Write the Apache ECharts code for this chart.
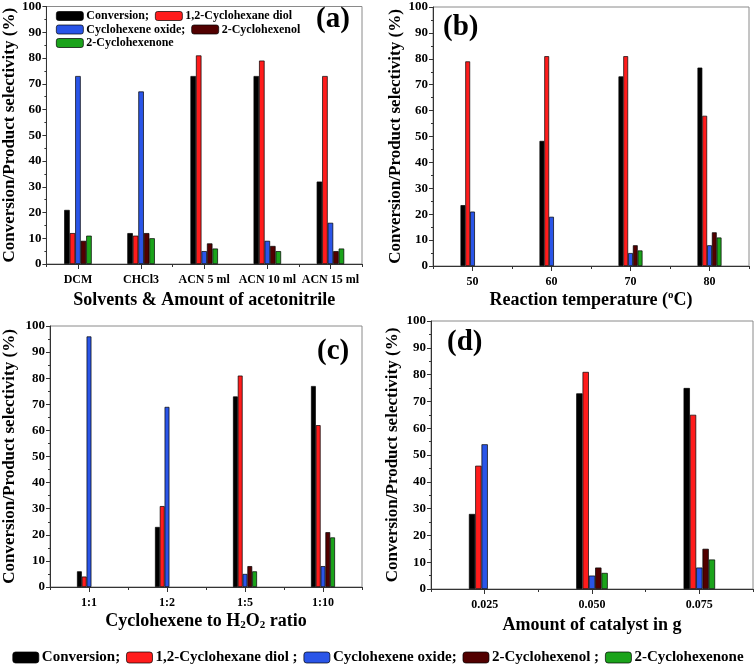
<!DOCTYPE html>
<html><head><meta charset="utf-8">
<script src="https://cdn.jsdelivr.net/npm/echarts@6/dist/echarts.min.js"></script>
<style>html,body{margin:0;padding:0;background:#fff}#c{width:756px;height:671px}</style>
</head><body><div id="c"></div>
<script>
const seriesNames = ['Conversion','1,2-Cyclohexane diol','Cyclohexene oxide','2-Cyclohexenol','2-Cyclohexenone'];
const colors = ['#000000','#ff1c1c','#2a55e8','#520000','#1ba31b'];

// Panel (a)
const catsA = ['DCM','CHCl3','ACN 5 ml','ACN 10 ml','ACN 15 ml'];
const convA  = [21, 12, 73, 73, 32];
const diolA  = [12, 11, 81, 79, 73];
const oxideA = [73, 67, 5, 9, 16];
const enolA  = [9, 12, 8, 7, 5];
const enoneA = [11, 10, 6, 5, 6];

// Panel (b)
const catsB = ['50','60','70','80'];
const convB  = [23.5, 48.3, 73.2, 76.6];
const diolB  = [79, 81, 81, 58];
const oxideB = [21, 19, 5, 8];
const enolB  = [null, null, 8, 13];
const enoneB = [null, null, 6, 11];

// Panel (c)
const catsC = ['1:1','1:2','1:5','1:10'];
const convC  = [6, 23, 73, 77];
const diolC  = [4, 31, 81, 62];
const oxideC = [96, 69, 5, 8];
const enolC  = [null, null, 8, 21];
const enoneC = [null, null, 6, 19];

// Panel (d)
const catsD = ['0.025','0.050','0.075'];
const convD  = [28, 73, 75];
const diolD  = [46, 81, 65];
const oxideD = [54, 5, 8];
const enolD  = [null, 8, 15];
const enoneD = [null, 6, 11];

const yTicks = [0,10,20,30,40,50,60,70,80,90,100];

const FONT = 'Liberation Serif';
const panels = [
  {cats: catsA, data:[convA,diolA,oxideA,enolA,enoneA], grid:{left:46, top:6, width:316, height:258}, bw:5.5,
   xname:'Solvents & Amount of acetonitrile', yGap:26, xGap:27},
  {cats: catsB, data:[convB,diolB,oxideB,enolB,enoneB], grid:{left:433, top:7, width:316, height:259}, bw:4.8,
   xname:'Reaction temperature ({sup|o}C)', yGap:24, xGap:24},
  {cats: catsC, data:[convC,diolC,oxideC,enolC,enoneC], grid:{left:49, top:326, width:313, height:261}, bw:4.8,
   xname:'Cyclohexene to H{sub|2}O{sub|2} ratio', yGap:32, xGap:24},
  {cats: catsD, data:[convD,diolD,oxideD,enolD,enoneD], grid:{left:431, top:321, width:322, height:268}, bw:6.3,
   xname:'Amount of catalyst in g', yGap:30, xGap:27}
];

const grids=[], xAxes=[], yAxes=[], series=[];
panels.forEach((p,i)=>{
  grids.push(Object.assign({show:true, borderColor:'#8a8a8a', borderWidth:1, backgroundColor:'transparent'}, p.grid));
  xAxes.push({type:'category', gridIndex:i, data:p.cats,
    name:p.xname, nameLocation:'middle', nameGap:p.xGap,
    nameTextStyle:{fontFamily:FONT, fontWeight:'bold', fontSize:18, color:'#000',
      rich:{sup:{fontFamily:FONT, fontWeight:'bold', fontSize:11, verticalAlign:'bottom', padding:[0,0,9,0]},
            sub:{fontFamily:FONT, fontWeight:'bold', fontSize:11, verticalAlign:'top', padding:[9,0,0,0]}}},
    axisLine:{lineStyle:{color:'#333', width:1}},
    axisTick:{show:true, alignWithLabel:true, length:5, lineStyle:{color:'#333'}},
    axisLabel:{interval:0, fontFamily:FONT, fontWeight:'bold', fontSize:12, color:'#000', margin:10},
    splitLine:{show:false}});
  yAxes.push({type:'value', gridIndex:i, min:0, max:100, interval:10,
    name:'Conversion/Product selectivity (%)', nameLocation:'middle', nameGap:p.yGap,
    nameTextStyle:{fontFamily:FONT, fontWeight:'bold', fontSize:17, color:'#000'},
    axisLine:{show:true, lineStyle:{color:'#333', width:1}},
    axisTick:{show:true, length:4, lineStyle:{color:'#333'}},
    minorTick:{show:true, splitNumber:2, length:2, lineStyle:{color:'#333'}},
    axisLabel:{fontFamily:FONT, fontWeight:'bold', fontSize:13, color:'#000', margin:5,
      formatter:(v)=> yTicks.includes(v) ? String(v) : ''},
    splitLine:{show:false}});
  p.data.forEach((d,k)=>{
    series.push({type:'bar', name:seriesNames[k], xAxisIndex:i, yAxisIndex:i, data:d,
      barWidth:p.bw, barGap:'0%',
      itemStyle:{color:colors[k], borderColor:'#000', borderWidth:0.7},
      emphasis:{disabled:true}, animation:false});
  });
});
// secondary x axes for boundary ticks
panels.forEach((p,i)=>{
  xAxes.push({type:'category', gridIndex:i, data:p.cats, position:'bottom',
    axisLine:{show:false}, axisLabel:{show:false},
    axisTick:{show:true, length:3, lineStyle:{color:'#333'}}, splitLine:{show:false}});
});

const legendText = {
  'Conversion':'Conversion;', '1,2-Cyclohexane diol':'1,2-Cyclohexane diol ;',
  'Cyclohexene oxide':'Cyclohexene oxide;', '2-Cyclohexenol':'2-Cyclohexenol ;', '2-Cyclohexenone':'2-Cyclohexenone'
};
const legendTextA = {
  'Conversion':'Conversion;', '1,2-Cyclohexane diol':'1,2-Cyclohexane diol',
  'Cyclohexene oxide':'Cyclohexene oxide;', '2-Cyclohexenol':'2-Cyclohexenol', '2-Cyclohexenone':'2-Cyclohexenone'
};
const legItem = {borderColor:'#000', borderWidth:0.7};
const rowStyle = {fontFamily:FONT, fontWeight:'bold', fontSize:12, color:'#000', padding:[0,0,0,-2]};
const rowsA = [[seriesNames[0],seriesNames[1]],[seriesNames[2],seriesNames[3]],[seriesNames[4]]];
const legends = rowsA.map((r,j)=>({data:r, orient:'horizontal', left:56, top:10+j*13.5, padding:[0,0,0,0],
   itemWidth:27, itemHeight:9, itemGap:6, selectedMode:false, formatter:n=>legendTextA[n], itemStyle:legItem,
   textStyle:rowStyle}));
legends.push({data:seriesNames, orient:'horizontal', left:'center', top:645, itemWidth:26, itemHeight:11, itemGap:6,
   selectedMode:false, formatter:n=>legendText[n], itemStyle:legItem,
   textStyle:{fontFamily:FONT, fontWeight:'bold', fontSize:15, color:'#000', padding:[0,0,0,-2]}});

const letters = [['(a)',316,5],['(b)',443,13],['(c)',317,337],['(d)',447,328]];
const graphics = letters.map(l=>({type:'text', left:l[1], top:l[2],
  style:{text:l[0], font:'bold 29px "Liberation Serif"', fill:'#000'}}));

const chart = echarts.init(document.getElementById('c'), null, {renderer:'canvas'});
chart.setOption({animation:false, grid:grids, xAxis:xAxes, yAxis:yAxes, series:series, legend:legends, graphic:graphics});
</script></body></html>
